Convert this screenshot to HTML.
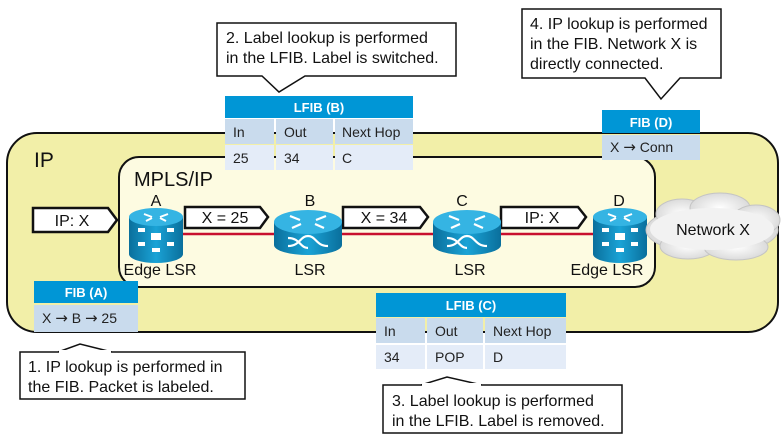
<!DOCTYPE html>
<html><head><meta charset="utf-8"><style>
html,body{margin:0;padding:0;background:#fff}
svg{display:block}
text{font-family:"Liberation Sans",sans-serif}
.ar{font-family:"DejaVu Sans",sans-serif;font-size:15px}
</style></head><body>
<svg width="784" height="438" viewBox="0 0 784 438" xmlns="http://www.w3.org/2000/svg">
<defs>
<linearGradient id="cyl" x1="0" x2="1" y1="0" y2="0">
<stop offset="0" stop-color="#0a6f9c"/><stop offset="0.5" stop-color="#1aa3d6"/><stop offset="1" stop-color="#0a6f9c"/>
</linearGradient>
<radialGradient id="cld" cx="0.5" cy="0.5" r="0.6">
<stop offset="0" stop-color="#ffffff"/><stop offset="1" stop-color="#d4d4d4"/>
</radialGradient>
</defs>
<rect x="7" y="133" width="771" height="199" rx="30" fill="#f2efa8" stroke="#111" stroke-width="2"/>
<text x="34" y="167" font-size="21" fill="#111">IP</text>
<rect x="119" y="157" width="536" height="130" rx="20" fill="#fdfbe1" stroke="#111" stroke-width="2"/>
<text x="134" y="186" font-size="20" fill="#111">MPLS/IP</text>
<line x1="180" y1="234" x2="600" y2="234" stroke="#c8102e" stroke-width="2.5"/>
<g stroke="#111" stroke-width="2.5" fill="#fff">
<path d="M33,208 H108 L117,220 L108,232 H33 Z"/>
<path d="M185,207 H260 L268,217 L260,228 H185 Z"/>
<path d="M343,207 H420 L428,217 L420,228 H343 Z"/>
<path d="M501,207 H578 L586,217 L578,228 H501 Z"/>
</g>
<g font-size="16" fill="#111" text-anchor="middle">
<text x="72" y="226">IP: X</text>
<text x="225" y="223">X = 25</text>
<text x="384" y="223">X = 34</text>
<text x="542" y="223">IP: X</text>
</g>
<g id="edgeA">
<path d="M129,217 V254 A27,9 0 0 0 183,254 V217 Z" fill="url(#cyl)"/>
<ellipse cx="156" cy="217" rx="27" ry="9" fill="#35b4e3"/>
<g fill="#fff"><rect x="151" y="233" width="10" height="7"/><rect x="138" y="228" width="7" height="4"/><rect x="167" y="228" width="7" height="4"/><rect x="138" y="242" width="7" height="4"/><rect x="167" y="242" width="7" height="4"/><rect x="152" y="248" width="8" height="4"/></g>
<g stroke="#fff" stroke-width="2"><path d="M144,214 l8,3 M168,214 l-8,3 M146,221 l6,-3 M166,221 l-6,-3"/></g>
</g>
<use href="#edgeA" x="464"/>
<g id="lsrB">
<path d="M274,222 V245 A34,10 0 0 0 342,245 V222 Z" fill="url(#cyl)"/>
<ellipse cx="308" cy="222" rx="34" ry="12" fill="#35b4e3"/>
<g stroke="#fff" stroke-width="2.2" fill="none"><path d="M290,216 l10,4 M326,216 l-10,4 M292,228 l9,-4 M324,228 l-9,-4 M288,246 c12,0 12,-10 20,-10 c8,0 8,10 20,10 M288,238 c12,0 12,10 20,10"/></g>
</g>
<use href="#lsrB" x="159"/>
<g font-size="16" fill="#111" text-anchor="middle">
<text x="156" y="206">A</text><text x="310" y="206">B</text><text x="462" y="206">C</text><text x="619" y="206">D</text>
<text x="160" y="275">Edge LSR</text><text x="310" y="275">LSR</text><text x="470" y="275">LSR</text><text x="607" y="275">Edge LSR</text>
</g>
<g fill="url(#cld)" stroke="#c4c4c4" stroke-width="1">
<ellipse cx="712" cy="230" rx="66" ry="24"/>
<ellipse cx="682" cy="214" rx="26" ry="15"/><ellipse cx="720" cy="208" rx="30" ry="15"/><ellipse cx="756" cy="220" rx="24" ry="15"/>
<ellipse cx="688" cy="246" rx="28" ry="13"/><ellipse cx="736" cy="247" rx="32" ry="13"/>
</g>
<ellipse cx="712" cy="229" rx="62" ry="21" fill="#f2f2f2"/>
<text x="713" y="235" font-size="16" fill="#111" text-anchor="middle">Network X</text>
<g font-size="14" fill="#222">
<rect x="225" y="96" width="188" height="22" fill="#0096d6"/>
<text x="319" y="112" fill="#fff" font-weight="bold" text-anchor="middle" font-size="13">LFIB (B)</text>
<rect x="225" y="119" width="49" height="25" fill="#c9dbed"/><rect x="276" y="119" width="57" height="25" fill="#c9dbed"/><rect x="335" y="119" width="78" height="25" fill="#c9dbed"/>
<rect x="225" y="145" width="49" height="25" fill="#e4ecf8"/><rect x="276" y="145" width="57" height="25" fill="#e4ecf8"/><rect x="335" y="145" width="78" height="25" fill="#e4ecf8"/>
<text x="233" y="137">In</text><text x="284" y="137">Out</text><text x="342" y="137">Next Hop</text>
<text x="233" y="163">25</text><text x="284" y="163">34</text><text x="342" y="163">C</text>
</g>
<g font-size="14" fill="#222">
<rect x="602" y="110" width="98" height="23" fill="#0096d6"/>
<text x="651" y="127" fill="#fff" font-weight="bold" text-anchor="middle" font-size="13">FIB (D)</text>
<rect x="602" y="135" width="98" height="25" fill="#c9dbed"/>
<text x="610" y="152">X <tspan class="ar">→</tspan> Conn</text>
</g>
<g font-size="14" fill="#222">
<rect x="34" y="281" width="104" height="22" fill="#0096d6"/>
<text x="86" y="297" fill="#fff" font-weight="bold" text-anchor="middle" font-size="13">FIB (A)</text>
<rect x="34" y="305" width="104" height="27" fill="#c9dbed"/>
<text x="42" y="323">X <tspan class="ar">→</tspan> B <tspan class="ar">→</tspan> 25</text>
</g>
<g font-size="14" fill="#222">
<rect x="376" y="293" width="190" height="24" fill="#0096d6"/>
<text x="471" y="310" fill="#fff" font-weight="bold" text-anchor="middle" font-size="13">LFIB (C)</text>
<rect x="376" y="318" width="49" height="25" fill="#c9dbed"/><rect x="427" y="318" width="56" height="25" fill="#c9dbed"/><rect x="485" y="318" width="81" height="25" fill="#c9dbed"/>
<rect x="376" y="345" width="49" height="24" fill="#e4ecf8"/><rect x="427" y="345" width="56" height="24" fill="#e4ecf8"/><rect x="485" y="345" width="81" height="24" fill="#e4ecf8"/>
<text x="384" y="336">In</text><text x="435" y="336">Out</text><text x="493" y="336">Next Hop</text>
<text x="384" y="362">34</text><text x="435" y="362">POP</text><text x="493" y="362">D</text>
</g>
<g fill="#fff" stroke="#111" stroke-width="1.5">
<path d="M217,23 H456 V76 H305 L279,92 L262,76 H217 Z"/>
<path d="M522,9 H721 V78 H680 L661,99 L645,78 H522 Z"/>
<path d="M20,352 H245 V399 H20 Z M58,352 L80,344 L112,352"/>
<path d="M383,385 H622 V433 H383 Z M421,385 L447,377 L482,385"/>
</g>
<g fill="#fff"><rect x="59" y="350" width="52" height="3"/><rect x="422" y="383" width="59" height="3"/></g>
<g font-size="16" fill="#111">
<text x="226" y="43">2. Label lookup is performed</text>
<text x="226" y="63">in the LFIB. Label is switched.</text>
<text x="530" y="29">4. IP lookup is performed</text>
<text x="530" y="49">in the FIB. Network X is</text>
<text x="530" y="69">directly connected.</text>
<text x="28" y="372">1. IP lookup is performed in</text>
<text x="28" y="392">the FIB. Packet is labeled.</text>
<text x="392" y="406">3. Label lookup is performed</text>
<text x="392" y="426">in the LFIB. Label is removed.</text>
</g>
</svg>
</body></html>
